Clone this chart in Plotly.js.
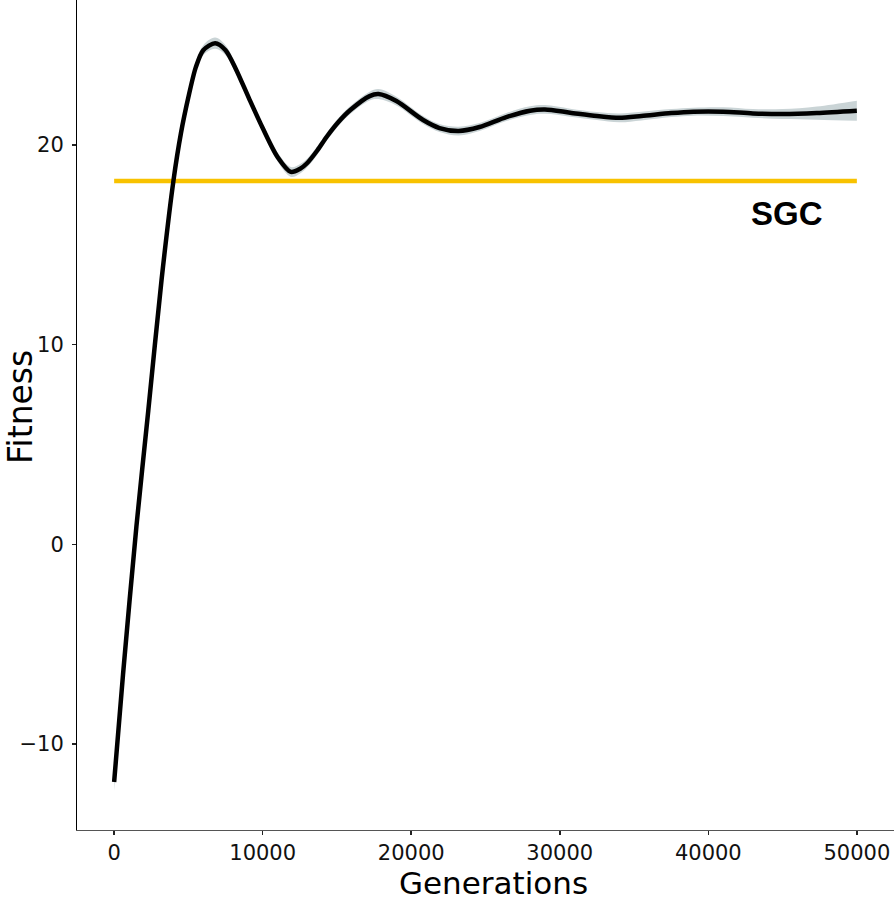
<!DOCTYPE html>
<html>
<head>
<meta charset="utf-8">
<script src="https://cdn.plot.ly/plotly-3.0.1.min.js"></script>
<style>
  html, body { margin: 0; padding: 0; background: #fff; }
  #chart { width: 894px; height: 902px; }
</style>
</head>
<body>
<div id="chart"></div>
<script>
// Generations (x) and smoothed fitness (y)
const generations = [0, 600, 1500, 2300, 3200, 4000, 4500, 5000, 5500, 6000, 6800, 7500, 8200, 9100, 10000, 11000, 11900, 12500, 13000, 13700, 14300, 15100, 15900, 17200, 17800, 19000, 20800, 21900, 23200, 24600, 26400, 28000, 29000, 30700, 32500, 34000, 35500, 37500, 39000, 41000, 43000, 45000, 47300, 50000];
const fitness = [-11.9, -6.5, 0.9, 6.7, 13.3, 18.25, 20.6, 22.4, 23.9, 24.75, 25.1, 24.75, 23.8, 22.3, 20.85, 19.4, 18.65, 18.8, 19.1, 19.75, 20.4, 21.15, 21.75, 22.45, 22.55, 22.2, 21.25, 20.85, 20.7, 20.9, 21.4, 21.72, 21.78, 21.62, 21.45, 21.36, 21.45, 21.6, 21.67, 21.67, 21.58, 21.55, 21.6, 21.72];
// Half-width of the confidence band
const bandHalfWidth = [0.45, 0.3, 0.2, 0.18, 0.18, 0.2, 0.22, 0.25, 0.25, 0.25, 0.28, 0.25, 0.22, 0.2, 0.2, 0.22, 0.25, 0.24, 0.22, 0.21, 0.2, 0.2, 0.2, 0.22, 0.25, 0.22, 0.2, 0.2, 0.22, 0.2, 0.2, 0.22, 0.22, 0.2, 0.2, 0.22, 0.22, 0.2, 0.2, 0.22, 0.22, 0.25, 0.33, 0.5];
// Reference line
const sgcLevel = 18.2;
const sgcRange = [0, 50000];
const sgcLabel = "SGC";
const sgcLabelPos = [45300, 16.56];
const xTicks = [0, 10000, 20000, 30000, 40000, 50000];
const yTicks = [-10, 0, 10, 20];
const xTitle = "Generations";
const yTitle = "Fitness";

const lower = fitness.map((v, i) => v - bandHalfWidth[i]);
const upper = fitness.map((v, i) => v + bandHalfWidth[i]);

const FONT = "Liberation Sans, Arial, Helvetica, sans-serif";
const AXFONT = "DejaVu Sans, Liberation Sans, Arial, sans-serif";

const traces = [
  { x: generations, y: lower, type: "scatter", mode: "lines",
    line: { width: 0, shape: "spline", color: "rgba(0,0,0,0)" }, hoverinfo: "skip", showlegend: false },
  { x: generations, y: upper, type: "scatter", mode: "lines", fill: "tonexty",
    fillcolor: "#CAD4D6", line: { width: 0, shape: "spline", color: "rgba(0,0,0,0)" }, hoverinfo: "skip", showlegend: false },
  { x: sgcRange, y: [sgcLevel, sgcLevel], type: "scatter", mode: "lines",
    line: { color: "#F8C200", width: 4.5 }, showlegend: false },
  { x: generations, y: fitness, type: "scatter", mode: "lines",
    line: { color: "#000000", width: 4.5, shape: "spline", smoothing: 0.8 }, showlegend: false }
];

const layout = {
  width: 894, height: 902,
  margin: { l: 77, r: 0, t: 0, b: 72 },
  paper_bgcolor: "#ffffff", plot_bgcolor: "#ffffff",
  showlegend: false,
  font: { family: FONT, color: "#111111" },
  xaxis: {
    range: [-2500, 52500], tickvals: xTicks, ticktext: xTicks.map(String),
    showgrid: false, zeroline: false, showline: true, linecolor: "#555", linewidth: 1.2,
    ticks: "outside", ticklen: 4, tickwidth: 1.5, tickcolor: "#222",
    tickfont: { size: 21, family: AXFONT, color: "#111" },
    automargin: false
  },
  yaxis: {
    range: [-14.307, 27.262], tickvals: yTicks,
    showgrid: false, zeroline: false, showline: true, linecolor: "#000", linewidth: 1,
    ticks: "outside", ticklen: 4, tickwidth: 1.5, tickcolor: "#222",
    ticklabelstandoff: 4,
    tickfont: { size: 21, family: AXFONT, color: "#111" },
    automargin: false
  },
  annotations: [
    { x: sgcLabelPos[0], y: sgcLabelPos[1], xref: "x", yref: "y", text: "<b>" + sgcLabel + "</b>",
      showarrow: false, font: { size: 33, family: FONT, color: "#000" }, xanchor: "center", yanchor: "middle" },
    { x: 0.5092, y: -0.08675, xref: "paper", yref: "paper", text: xTitle, showarrow: false, borderpad: 0,
      font: { size: 31, family: AXFONT, color: "#000" }, xanchor: "center", yanchor: "bottom" },
    { x: -0.09425, y: 0.5102, xref: "paper", yref: "paper", text: yTitle, showarrow: false, textangle: -90, borderpad: 0,
      font: { size: 33, family: AXFONT, color: "#000" }, xanchor: "left", yanchor: "middle" }
  ]
};

Plotly.newPlot("chart", traces, layout, { displayModeBar: false, staticPlot: true });
</script>
</body>
</html>
